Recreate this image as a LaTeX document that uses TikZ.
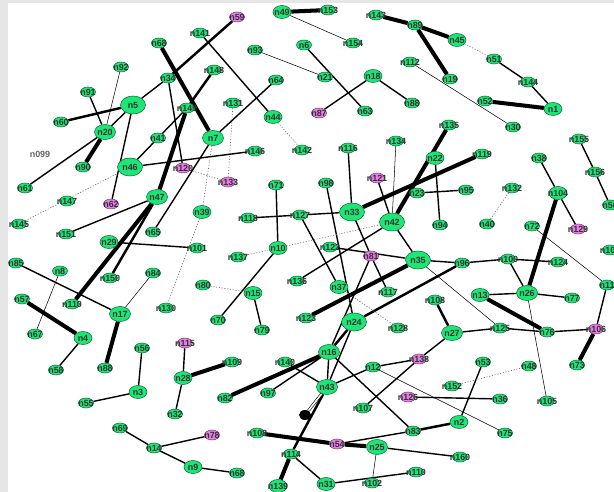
\documentclass[tikz,border=0pt]{standalone}
\usepackage{fontspec}
\setsansfont{Liberation Sans}
\usetikzlibrary{shapes.geometric, backgrounds}
\definecolor{vgreen}{RGB}{28,230,118}
\definecolor{vline}{RGB}{10,110,50}
\definecolor{vpink}{RGB}{232,125,232}
\definecolor{framegray}{RGB}{230,230,230}

\begin{document}
\begin{tikzpicture}[x=0.02cm, y=-0.02cm,
        vnode/.style={ellipse, draw=vline, fill=vgreen, line width=0.3pt, inner sep=0pt, minimum width=0.3cm, minimum height=0.2cm},
        midv/.style={vnode, minimum width=0.36cm, minimum height=0.26cm},
        lgv/.style={vnode, minimum width=0.42cm, minimum height=0.3cm},
        hugev/.style={vnode, minimum width=0.5cm, minimum height=0.36cm},
        hnode/.style={vnode, fill=vpink, draw=vpink!50!black},
        lbl/.style={font=\sffamily\bfseries\fontsize{5.1}{6}\selectfont, text=black!80, inner sep=0pt},
        thinedge/.style={line width=0.3pt},
        medge/.style={line width=0.8pt},
        thickedge/.style={line width=1.4pt},
        heavyedge/.style={line width=2.3pt},
        dotedge/.style={line width=0.35pt, black!60, dash pattern=on 0.6pt off 1pt}
    ]
        \useasboundingbox (0,0) rectangle (614,492);

        % Small vertices
        \foreach \nm/\px/\py in {n68/159/43, n141/200/33, n92/121/67, n91/88/92, n60/61/122, n34/168/78,
            n149/187/108, n148/214/70, n153/328/10, n143/376/15, n154/353/43, n93/255/50, n6/304/45,
            n21/325/77, n88/412/103, n64/276/80, n131/233/103, n63/365/111, n112/410/62, n89/415/25,
            n51/494/59, n144/528/82, n19/450/79, n52/485/101, n30/513/127, n135/449/125, n41/158/138,
            n90/83/167, n61/25/188, n147/67/201, n145/19/224, n151/66/234, n65/153/232, n101/197/248,
            n146/255/151, n142/302/150, n116/348/148, n134/396/141, n71/276/185, n98/326/183,
            n118/248/218, n127/300/215, n122/330/247, n155/579/139, n119/482/154, n38/539/158,
            n156/595/172, n23/417/193, n95/466/190, n132/512/188, n50/610/205, n94/440/225,
            n40/487/224, n72/532/226, n85/16/263, n8/60/271, n150/110/278, n84/153/273, n80/203/285,
            n57/22/299, n110/72/304, n130/166/308, n67/35/334, n56/142/348, n58/56/370,
            n137/238/257, n136/297/281, n117/388/292, n70/218/320, n79/262/330, n123/306/318,
            n128/398/328, n109/232/362, n140/285/362, n12/373/367, n96/462/263, n100/508/259,
            n124/558/262, n108/435/300, n77/572/298, n125/500/328, n76/547/332, n53/483/362,
            n48/529/366, n73/577/365, n55/86/403, n32/175/414, n69/120/428, n14/154/448,
            n82/225/398, n97/268/393, n107/363/408, n83/413/431, n114/291/454, n102/372/483,
            n152/452/386, n36/500/399, n105/547/401, n75/505/433, n160/460/457, n103/610/250,
            n11/607/285} {
            \node[vnode] (\nm) at (\px,\py) {};
            \node[lbl] at (\nm) {\nm};
        }
        % Vertices whose label repeats another one
        \node[vnode] (n88b) at (105,368) {};
        \node[lbl] at (n88b) {n88};
        \node[vnode] (n68b) at (237,473) {};
        \node[lbl] at (n68b) {n68};
        \node[vnode] (n108b) at (257,433) {};
        \node[lbl] at (n108b) {n108};
        \node[vnode] (n110b) at (416,472) {};
        \node[lbl] at (n110b) {n110};
        \node[lbl, text=black!60] (n099) at (40,154) {n099};

        % Medium vertices
        \foreach \nm/\px/\py in {n1/553/109, n2/459/422, n4/83/338, n3/138/392, n13/480/295, n31/326/484,
            n9/193/467, n15/253/293, n10/278/248, n37/339/287, n29/109/242, n39/202/212, n28/183/378,
            n22/435/158, n104/558/193, n45/457/40, n49/282/12, n18/373/76, n44/273/117, n139/278/486} {
            \node[midv] (\nm) at (\px,\py) {};
            \node[lbl] at (\nm) {\nm};
        }

        % Large vertices
        \foreach \nm/\px/\py in {n20/105/132, n47/157/197, n16/329/352, n43/327/387, n25/377/447,
            n27/452/333, n26/527/293, n17/120/314, n7/213/138} {
            \node[lgv] (\nm) at (\px,\py) {};
            \node[lbl] at (\nm) {\nm};
        }
        \foreach \nm/\px/\py in {n5/133/105, n46/130/167, n33/352/212, n42/392/222, n35/418/260, n24/354/322} {
            \node[hugev] (\nm) at (\px,\py) {};
            \node[lbl] at (\nm) {\nm};
        }

        % Pink vertices
        \foreach \nm/\px/\py in {n59/237/17, n87/319/113, n120/183/168, n62/111/204, n133/228/182,
            n121/377/178, n129/578/229, n81/371/256, n115/185/343, n138/419/359, n106/596/329,
            n126/408/397, n78/212/435, n54/337/444} {
            \node[hnode] (\nm) at (\px,\py) {};
            \node[lbl] at (\nm) {\nm};
        }

        % Black loop mark
        \node[ellipse, fill=black, inner sep=0pt, minimum width=0.24cm, minimum height=0.2cm] (loop) at (305,415) {};

        \begin{scope}[on background layer]
            % Window frame
            \fill[framegray] (0,0) rectangle (8,492);
            \fill[framegray] (0,0) rectangle (614,3);

            % Edges by weight
            \foreach \a/\b in {n68/n7, n149/n47, n47/n110, n20/n90, n143/n89, n89/n45, n89/n19, n52/n1,
                n49/n153, n135/n42, n119/n33, n35/n123, n104/n26, n13/n76, n106/n73, n57/n4, n17/n88b,
                n16/n82, n28/n109, n114/n139, n108b/n54, n54/n25}
                \draw[heavyedge] (\a) -- (\b);
            \foreach \a/\b in {n60/n5, n96/n24, n24/n16, n43/n114, n108/n27, n148/n149, n47/n150, n83/n2, n59/n34}
                \draw[thickedge] (\a) -- (\b);
            \foreach \a/\b in {n91/n20, n5/n20, n5/n34, n34/n120, n41/n149, n5/n62, n20/n61, n46/n146,
                n46/n41, n47/n151, n65/n7, n29/n101, n7/n64, n141/n44, n116/n33, n121/n42, n71/n10,
                n118/n127, n127/n33, n127/n37, n98/n24, n33/n81, n136/n42, n122/n35, n81/n16, n81/n117,
                n70/n10, n15/n79, n16/n83, n97/n16, n140/n43, n16/n43, n24/n43, n43/n12, n107/n138,
                n54/n83, n25/n160, n114/n31, n31/n110b, n126/n36, n2/n53, n35/n96, n96/n100, n100/n124,
                n100/n26, n13/n26, n26/n77, n27/n125, n125/n76, n76/n106, n27/n138, n12/n138, n106/n11,
                n22/n94, n23/n95, n38/n104, n104/n129, n155/n156, n156/n50, n42/n35, n51/n144, n144/n1,
                n18/n88, n6/n63, n18/n87, n85/n17, n4/n58, n115/n28, n28/n32, n56/n3, n3/n55, n69/n14,
                n14/n78, n14/n9, n9/n68b}
                \draw[medge] (\a) -- (\b);
            \foreach \a/\b in {n92/n20, n49/n154, n93/n21, n112/n30, n134/n42, n8/n67, n17/n84,
                n35/n125, n26/n105, n12/n75, n72/n11, n25/n102}
                \draw[thinedge] (\a) -- (\b);
            \foreach \a/\b in {n45/n51, n44/n142, n131/n133, n120/n133, n7/n39, n39/n130, n145/n46,
                n137/n42, n80/n15, n37/n128, n132/n40, n152/n48}
                \draw[dotedge] (\a) -- (\b);
            \draw[double, double distance=0.9pt, line width=0.35pt] (n43) -- (loop);
        \end{scope}

    \end{tikzpicture}
\end{document}
